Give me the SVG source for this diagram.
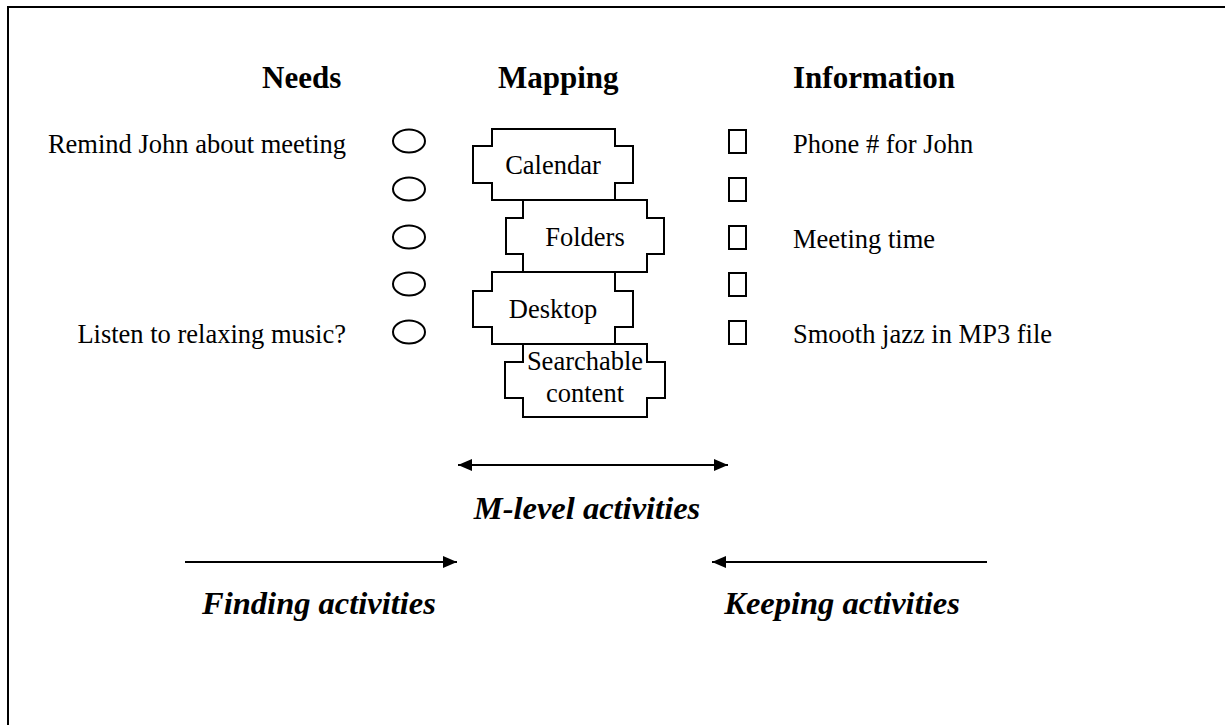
<svg xmlns="http://www.w3.org/2000/svg" width="1225" height="725" viewBox="0 0 1225 725">
<style>
.t{font-family:"Liberation Serif","Times New Roman",serif;font-size:26.5px;fill:#000}
.h{font-family:"Liberation Serif","Times New Roman",serif;font-size:31px;font-weight:bold;fill:#000}
.hi{font-family:"Liberation Serif","Times New Roman",serif;font-size:32.5px;font-weight:bold;font-style:italic;fill:#000}
.s{fill:#fff;stroke:#000;stroke-width:2}
.ln{stroke:#000;stroke-width:2;fill:none}
</style>
<defs>
<marker id="ah" viewBox="0 0 14 12" refX="14" refY="6" markerWidth="14" markerHeight="12" markerUnits="userSpaceOnUse" orient="auto-start-reverse">
<path d="M0,0 L14,6 L0,12 Z" fill="#000"/>
</marker>
</defs>
<rect width="1225" height="725" fill="#fff"/>
<rect x="8" y="7" width="1240" height="740" fill="none" stroke="#000" stroke-width="2"/>
<g id="headings">
<text class="h" x="262" y="88">Needs</text>
<text class="h" x="498" y="88">Mapping</text>
<text class="h" x="793" y="88">Information</text>
</g>
<g id="needs">
<text class="t" x="346" y="153" text-anchor="end">Remind John about meeting</text>
<text class="t" x="346" y="343" text-anchor="end">Listen to relaxing music?</text>
<ellipse class="s" cx="409" cy="141" rx="16" ry="11.5"/>
<ellipse class="s" cx="409" cy="189" rx="16" ry="11.5"/>
<ellipse class="s" cx="409" cy="237" rx="16" ry="11.5"/>
<ellipse class="s" cx="409" cy="284" rx="16" ry="11.5"/>
<ellipse class="s" cx="409" cy="332" rx="16" ry="11.5"/>
</g>
<g id="information">
<rect class="s" x="729" y="130" width="17" height="23"/>
<rect class="s" x="729" y="178" width="17" height="23"/>
<rect class="s" x="729" y="226" width="17" height="23"/>
<rect class="s" x="729" y="273" width="17" height="23"/>
<rect class="s" x="729" y="321" width="17" height="23"/>
<text class="t" x="793" y="153">Phone # for John</text>
<text class="t" x="793" y="248">Meeting time</text>
<text class="t" x="793" y="343">Smooth jazz in MP3 file</text>
</g>
<g id="calendar">
<path class="s" d="M492,129 H615 V146 H633 V183 H615 V200 H492 V183 H473 V146 H492 Z"/>
<text class="t" x="553" y="174" text-anchor="middle">Calendar</text>
</g>
<g id="folders">
<path class="s" d="M523,200 H647 V218 H664 V254 H647 V272 H523 V254 H506 V218 H523 Z"/>
<text class="t" x="585" y="246" text-anchor="middle">Folders</text>
</g>
<g id="desktop">
<path class="s" d="M492,272 H615 V291 H633 V327 H615 V344 H492 V327 H473 V291 H492 Z"/>
<text class="t" x="553" y="318" text-anchor="middle">Desktop</text>
</g>
<g id="searchable">
<path class="s" d="M523,344 H647 V362 H665 V398 H647 V417 H523 V398 H505 V362 H523 Z"/>
<text class="t" x="585" y="370" text-anchor="middle">Searchable</text>
<text class="t" x="585" y="402" text-anchor="middle">content</text>
</g>
<g id="connectors">
<line class="ln" x1="458" y1="465" x2="728" y2="465" marker-start="url(#ah)" marker-end="url(#ah)"/>
<line class="ln" x1="185" y1="562" x2="457" y2="562" marker-end="url(#ah)"/>
<line class="ln" x1="987" y1="562" x2="712" y2="562" marker-end="url(#ah)"/>
</g>
<g id="labels">
<text class="hi" x="587" y="519" text-anchor="middle">M-level activities</text>
<text class="hi" x="319" y="614" text-anchor="middle">Finding activities</text>
<text class="hi" x="842" y="614" text-anchor="middle">Keeping activities</text>
</g>
</svg>
